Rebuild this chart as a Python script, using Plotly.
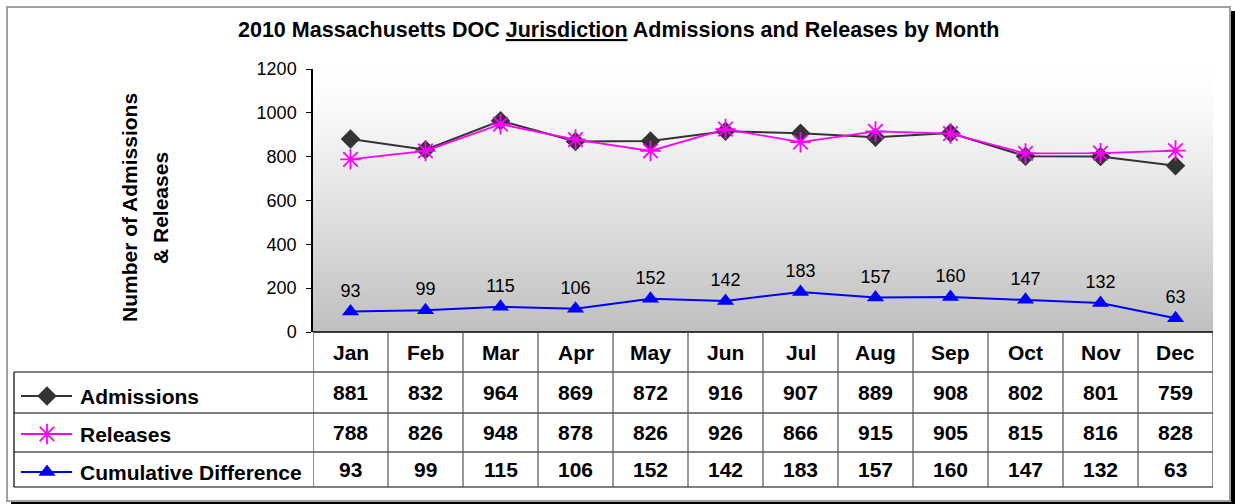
import plotly.graph_objects as go

W, H = 1235, 504

months = ["Jan", "Feb", "Mar", "Apr", "May", "Jun", "Jul", "Aug", "Sep", "Oct", "Nov", "Dec"]
admissions = [881, 832, 964, 869, 872, 916, 907, 889, 908, 802, 801, 759]
releases = [788, 826, 948, 878, 826, 926, 866, 915, 905, 815, 816, 828]
cumulative = [93, 99, 115, 106, 152, 142, 183, 157, 160, 147, 132, 63]
series_names = ["Admissions", "Releases", "Cumulative Difference"]
y_ticks = [0, 200, 400, 600, 800, 1000, 1200]

FONT = "Arial, Liberation Sans, sans-serif"

# layout geometry in pixels
PL, PR, PT, PB = 313, 1213, 69, 332  # plot area
TL = 14                               # table left edge (legend column)
ROWS = [332, 372, 413, 452, 487]      # table horizontal lines


def px(x):
    return x / W


def py(y):
    return 1 - y / H


xi = list(range(len(months)))

styles = [
    dict(color="#333333", symbol="diamond", size=15, lw=2),
    dict(color="#FF00FF", symbol="asterisk-open", size=17, lw=1.8),
    dict(color="#0000FF", symbol="triangle-up", size=15, lw=2),
]
values = [admissions, releases, cumulative]

fig = go.Figure()

# gradient background of plot area
fig.add_trace(go.Scatter(
    x=[-0.5, len(months) - 0.5, len(months) - 0.5, -0.5, -0.5],
    y=[0, 0, y_ticks[-1], y_ticks[-1], 0],
    mode="lines", fill="toself", line=dict(width=0),
    fillgradient=dict(type="vertical",
                      colorscale=[[0, "#bfbfbf"], [0.35, "#d9d9d9"], [0.7, "#f0f0f0"], [0.9, "#fcfcfc"],
                                  [1, "#ffffff"]]),
    hoverinfo="skip", showlegend=False,
))

for name, vals, st in zip(series_names, values, styles):
    is_cum = name == "Cumulative Difference"
    fig.add_trace(go.Scatter(
        x=xi, y=vals, name=name,
        mode="lines+markers+text" if is_cum else "lines+markers",
        text=[str(v) for v in vals] if is_cum else None,
        textposition="top center",
        textfont=dict(family=FONT, size=18, color="black"),
        line=dict(color=st["color"], width=st["lw"]),
        marker=dict(symbol=st["symbol"], size=st["size"], color=st["color"],
                    line=dict(color=st["color"], width=1.8 if "asterisk" in st["symbol"] else 0)),
        showlegend=False,
    ))

# legend glyphs inside table (pixel overlay axes)
legend_y = [396, 434, 472]
for name, st, ly in zip(series_names, styles, legend_y):
    fig.add_trace(go.Scatter(
        x=[21, 72], y=[ly, ly], mode="lines",
        line=dict(color=st["color"], width=2), xaxis="x2", yaxis="y2",
        hoverinfo="skip", showlegend=False,
    ))
    fig.add_trace(go.Scatter(
        x=[47], y=[ly], mode="markers",
        marker=dict(symbol=st["symbol"], size=st["size"], color=st["color"],
                    line=dict(color=st["color"], width=1.8 if "asterisk" in st["symbol"] else 0)),
        xaxis="x2", yaxis="y2", hoverinfo="skip", showlegend=False,
    ))

shapes = []
# outer frame and shadow
shapes.append(dict(type="rect", xref="paper", yref="paper", x0=px(1231), x1=px(1235), y0=py(504), y1=py(11),
                   fillcolor="black", line=dict(width=0), layer="below"))
shapes.append(dict(type="rect", xref="paper", yref="paper", x0=px(11), x1=px(1235), y0=py(504), y1=py(502),
                   fillcolor="black", line=dict(width=0), layer="below"))
shapes.append(dict(type="rect", xref="paper", yref="paper", x0=px(7), x1=px(1230), y0=py(501), y1=py(7),
                   fillcolor="white", line=dict(color="#a0a0a0", width=2), layer="below"))

# table lines
shapes.append(dict(type="line", xref="paper", yref="paper", x0=px(PL), x1=px(PR), y0=py(ROWS[0]), y1=py(ROWS[0]),
                   line=dict(color="black", width=1.5)))
for r in ROWS[1:]:
    shapes.append(dict(type="line", xref="paper", yref="paper", x0=px(TL), x1=px(PR), y0=py(r), y1=py(r),
                       line=dict(color="black", width=1.2)))
shapes.append(dict(type="line", xref="paper", yref="paper", x0=px(TL), x1=px(TL), y0=py(ROWS[1]), y1=py(ROWS[-1]),
                   line=dict(color="black", width=1.2)))
for k in range(len(months) + 1):
    xx = -0.5 + k
    shapes.append(dict(type="line", xref="x", yref="paper", x0=xx, x1=xx, y0=py(ROWS[0]), y1=py(ROWS[-1]),
                       line=dict(color="#444444" if k in (0, len(months)) else "#555555", width=1.2)))

annotations = []
annotations.append(dict(
    text="2010 Massachusetts DOC <u>Jurisdiction</u> Admissions and Releases by Month",
    xref="paper", yref="paper", x=px(619), y=py(30), showarrow=False,
    font=dict(family=FONT, size=21.5, color="black", weight="bold"), xanchor="center", yanchor="middle"))
annotations.append(dict(text="Number of Admissions", xref="paper", yref="paper", x=px(129), y=py(208),
                        textangle=-90, showarrow=False, xanchor="center", yanchor="middle",
                        font=dict(family=FONT, size=21, color="black", weight="bold")))
annotations.append(dict(text="& Releases", xref="paper", yref="paper", x=px(160), y=py(208),
                        textangle=-90, showarrow=False, xanchor="center", yanchor="middle",
                        font=dict(family=FONT, size=21, color="black", weight="bold")))

row_centers = [(ROWS[i] + ROWS[i + 1]) / 2 for i in range(4)]
tfont = dict(family=FONT, size=21, color="black", weight="bold")
for i, m in enumerate(months):
    annotations.append(dict(text=m, xref="x", yref="paper", x=i, y=py(row_centers[0]),
                            showarrow=False, font=tfont, xanchor="center", yanchor="middle"))
    for r, vals in enumerate(values):
        annotations.append(dict(text=str(vals[i]), xref="x", yref="paper", x=i, y=py(row_centers[r + 1]),
                                showarrow=False, font=tfont, xanchor="center", yanchor="middle"))
for name, ly in zip(series_names, legend_y):
    annotations.append(dict(text=name, xref="paper", yref="paper", x=px(78), y=py(ly),
                            showarrow=False, font=tfont, xanchor="left", yanchor="middle"))

fig.update_layout(
    width=W, height=H, autosize=False,
    margin=dict(l=0, r=0, t=0, b=0, autoexpand=False),
    paper_bgcolor="white", plot_bgcolor="rgba(0,0,0,0)",
    font=dict(family=FONT, color="black"),
    xaxis=dict(domain=[px(PL), px(PR)], range=[-0.5, len(months) - 0.5], showticklabels=False,
               showgrid=False, zeroline=False, showline=False, ticks="", fixedrange=True),
    yaxis=dict(domain=[py(PB), py(PT)], range=[y_ticks[0], y_ticks[-1]], tickvals=y_ticks,
               ticktext=[str(t) for t in y_ticks], showgrid=False, zeroline=False,
               showline=True, linecolor="black", linewidth=1.5, ticks="outside", ticklen=5,
               tickcolor="black", tickwidth=1.2, tickfont=dict(family=FONT, size=18, color="black"),
               ticklabelstandoff=6, fixedrange=True),
    xaxis2=dict(domain=[0, 1], range=[0, W], visible=False, anchor="y2", fixedrange=True),
    yaxis2=dict(domain=[0, 1], range=[H, 0], visible=False, anchor="x2", fixedrange=True),
    shapes=shapes, annotations=annotations, showlegend=False,
)

fig.write_html(
    "out.html",
    config={"displayModeBar": False},
    post_script="document.body.style.margin='0';document.body.style.overflow='hidden';",
)
